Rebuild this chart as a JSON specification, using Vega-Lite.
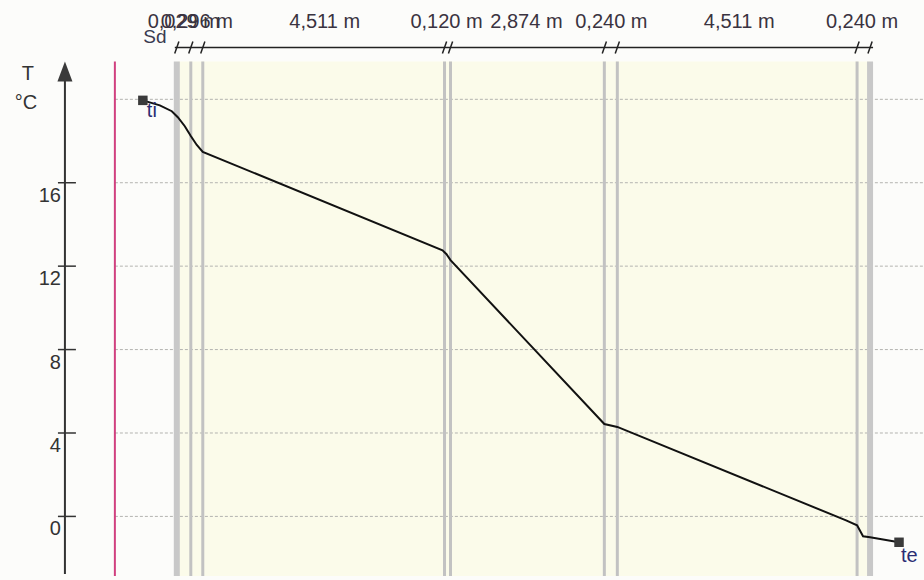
{
  "$schema": "https://vega.github.io/schema/vega-lite/v6.json",
  "width": 924,
  "height": 580,
  "autosize": {"type": "fit", "contains": "padding"},
  "padding": 0,
  "background": "#fcfcfa",
  "config": {"view": {"stroke": null}, "font": "Liberation Sans"},
  "datasets": {
    "wall": [{"x": 178, "x2": 871, "t": -2.86, "t2": 21.81}],
    "grid": [
      {"t": 0, "x": 115, "x2": 924},
      {"t": 4, "x": 115, "x2": 924},
      {"t": 8, "x": 115, "x2": 924},
      {"t": 12, "x": 115, "x2": 924},
      {"t": 16, "x": 115, "x2": 924},
      {"t": 20, "x": 115, "x2": 924}
    ],
    "bounds": [
      {"x": 177, "kind": "surface", "t": -2.86, "t2": 21.81},
      {"x": 191, "kind": "joint", "t": -2.86, "t2": 21.81},
      {"x": 203, "kind": "joint", "t": -2.86, "t2": 21.81},
      {"x": 445, "kind": "joint", "t": -2.86, "t2": 21.81},
      {"x": 451, "kind": "joint", "t": -2.86, "t2": 21.81},
      {"x": 605, "kind": "joint", "t": -2.86, "t2": 21.81},
      {"x": 618, "kind": "joint", "t": -2.86, "t2": 21.81},
      {"x": 858, "kind": "joint", "t": -2.86, "t2": 21.81},
      {"x": 871, "kind": "surface", "t": -2.86, "t2": 21.81}
    ],
    "slashes": [
      {"x": 177, "t": 22.48}, {"x": 191, "t": 22.48}, {"x": 203, "t": 22.48},
      {"x": 445, "t": 22.48}, {"x": 451, "t": 22.48}, {"x": 605, "t": 22.48},
      {"x": 618, "t": 22.48}, {"x": 858, "t": 22.48}, {"x": 871, "t": 22.48}
    ],
    "dimline": [{"x": 175, "x2": 874, "t": 22.48}],
    "sd": [
      {"x": 184, "t": 23.71, "label": "0,029 m"},
      {"x": 197, "t": 23.71, "label": "0,296 m"},
      {"x": 325, "t": 23.71, "label": "4,511 m"},
      {"x": 447, "t": 23.71, "label": "0,120 m"},
      {"x": 527, "t": 23.71, "label": "2,874 m"},
      {"x": 612, "t": 23.71, "label": "0,240 m"},
      {"x": 740, "t": 23.71, "label": "4,511 m"},
      {"x": 863, "t": 23.71, "label": "0,240 m"}
    ],
    "sdtitle": [{"x": 155, "t": 23.0, "label": "Sd"}],
    "magenta": [{"x": 115, "t": -2.86, "t2": 21.81}],
    "axisline": [{"x": 65, "t": -2.76, "t2": 21.0}],
    "arrow": [{"x": 65, "t": 21.33}],
    "ticks": [
      {"t": 0, "x": 58, "x2": 76, "label": "0"},
      {"t": 4, "x": 58, "x2": 76, "label": "4"},
      {"t": 8, "x": 58, "x2": 76, "label": "8"},
      {"t": 12, "x": 58, "x2": 76, "label": "12"},
      {"t": 16, "x": 58, "x2": 76, "label": "16"}
    ],
    "axistitle": [
      {"x": 28, "t": 21.19, "label": "T"},
      {"x": 26, "t": 19.81, "label": "°C"}
    ],
    "profile": [
      {"x": 143, "t": 19.95},
      {"x": 160, "t": 19.71},
      {"x": 172, "t": 19.43},
      {"x": 178, "t": 19.14},
      {"x": 185, "t": 18.71},
      {"x": 191, "t": 18.24},
      {"x": 197, "t": 17.81},
      {"x": 203, "t": 17.48},
      {"x": 443, "t": 12.76},
      {"x": 447, "t": 12.57},
      {"x": 451, "t": 12.29},
      {"x": 605, "t": 4.43},
      {"x": 618, "t": 4.29},
      {"x": 847, "t": -0.19},
      {"x": 858, "t": -0.43},
      {"x": 864, "t": -0.95},
      {"x": 871, "t": -1.0},
      {"x": 900, "t": -1.24}
    ],
    "ends": [
      {"x": 143, "t": 19.95, "name": "ti", "lx": 147, "lt": 19.43},
      {"x": 900, "t": -1.24, "name": "te", "lx": 902, "lt": -1.9}
    ]
  },
  "encoding": {
    "x": {"field": "x", "type": "quantitative", "scale": {"domain": [0, 924], "nice": false, "zero": false}, "axis": null},
    "y": {"field": "t", "type": "quantitative", "scale": {"domain": [-2.857, 24.762], "nice": false, "zero": false}, "axis": null}
  },
  "layer": [
    {
      "data": {"name": "wall"},
      "mark": {"type": "rect", "fill": "#fbfbea"},
      "encoding": {"x2": {"field": "x2"}, "y2": {"field": "t2"}}
    },
    {
      "data": {"name": "grid"},
      "mark": {"type": "rule", "stroke": "#b4b4b0", "strokeWidth": 1, "strokeDash": [3, 2]},
      "encoding": {"x2": {"field": "x2"}}
    },
    {
      "data": {"name": "bounds"},
      "mark": {"type": "rule"},
      "encoding": {
        "y2": {"field": "t2"},
        "strokeWidth": {"field": "kind", "type": "nominal", "scale": {"domain": ["surface", "joint"], "range": [6, 3]}, "legend": null},
        "color": {"field": "kind", "type": "nominal", "scale": {"domain": ["surface", "joint"], "range": ["#c8c8c8", "#c2c2c2"]}, "legend": null}
      }
    },
    {
      "data": {"name": "magenta"},
      "mark": {"type": "rule", "stroke": "#d0407f", "strokeWidth": 2},
      "encoding": {"y2": {"field": "t2"}}
    },
    {
      "data": {"name": "axisline"},
      "mark": {"type": "rule", "stroke": "#333333", "strokeWidth": 2},
      "encoding": {"y2": {"field": "t2"}}
    },
    {
      "data": {"name": "arrow"},
      "mark": {"type": "point", "shape": "M0,-1L-0.75,1L0.75,1Z", "filled": true, "fill": "#3a3a3a", "size": 400, "opacity": 1, "strokeWidth": 0}
    },
    {
      "data": {"name": "ticks"},
      "mark": {"type": "rule", "stroke": "#333333", "strokeWidth": 1.5},
      "encoding": {"x2": {"field": "x2"}}
    },
    {
      "data": {"name": "ticks"},
      "mark": {"type": "text", "align": "right", "baseline": "middle", "dy": 13, "fontSize": 20, "fill": "#333333"},
      "encoding": {"x": {"datum": 61}, "text": {"field": "label"}}
    },
    {
      "data": {"name": "axistitle"},
      "mark": {"type": "text", "align": "center", "baseline": "middle", "fontSize": 20, "fill": "#333333"},
      "encoding": {"text": {"field": "label"}}
    },
    {
      "data": {"name": "dimline"},
      "mark": {"type": "rule", "stroke": "#222222", "strokeWidth": 1.5},
      "encoding": {"x2": {"field": "x2"}}
    },
    {
      "data": {"name": "slashes"},
      "mark": {"type": "point", "shape": "M-0.35,1L0.35,-1", "stroke": "#222222", "strokeWidth": 1.5, "size": 144, "opacity": 1}
    },
    {
      "data": {"name": "sd"},
      "mark": {"type": "text", "align": "center", "baseline": "middle", "fontSize": 20, "fill": "#3a3340"},
      "encoding": {"text": {"field": "label"}}
    },
    {
      "data": {"name": "sdtitle"},
      "mark": {"type": "text", "align": "center", "baseline": "middle", "fontSize": 19, "fill": "#3a3a50"},
      "encoding": {"text": {"field": "label"}}
    },
    {
      "data": {"name": "profile"},
      "mark": {"type": "line", "stroke": "#111111", "strokeWidth": 2}
    },
    {
      "data": {"name": "ends"},
      "mark": {"type": "square", "filled": true, "fill": "#3a3a3a", "size": 90, "opacity": 1}
    },
    {
      "data": {"name": "ends"},
      "mark": {"type": "text", "align": "left", "baseline": "middle", "fontSize": 20, "fill": "#2b2d73"},
      "encoding": {"x": {"field": "lx", "type": "quantitative"}, "y": {"field": "lt", "type": "quantitative"}, "text": {"field": "name"}}
    }
  ]
}
